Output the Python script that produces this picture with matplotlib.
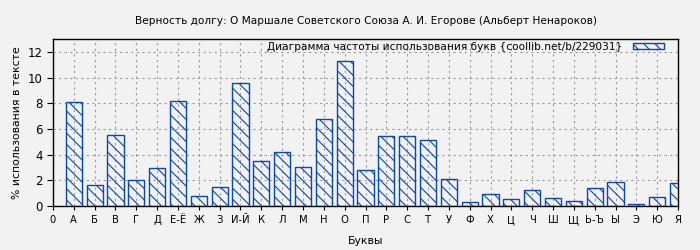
import matplotlib.pyplot as plt

plt.rcParams["font.family"] = ["DejaVu Sans"]
plt.rcParams["hatch.linewidth"] = 0.8

title = "Верность долгу: О Маршале Советского Союза А. И. Егорове (Альберт Ненароков)"
legend_label = "Диаграмма частоты использования букв {coollib.net/b/229031}"

tick_labels = ["0", "А", "Б", "В", "Г", "Д", "Е-Ё", "Ж", "З", "И-Й", "К", "Л", "М",
               "Н", "О", "П", "Р", "С", "Т", "У", "Ф", "Х", "Ц", "Ч", "Ш", "Щ",
               "Ь-Ъ", "Ы", "Э", "Ю", "Я"]
letters = tick_labels[1:]
percent = [8.1, 1.6, 5.5, 2.0, 2.95, 8.18, 0.76, 1.46, 9.59, 3.49, 4.2, 3.02,
           6.77, 11.3, 2.79, 5.45, 5.45, 5.13, 2.09, 0.29, 0.91, 0.52, 1.23,
           0.6, 0.37, 1.38, 1.85, 0.13, 0.68, 1.77]

bg = "#f2f2f2"
blue = "#0b47b0"

fig = plt.figure(figsize=(7, 2.5), dpi=100, facecolor=bg)
ax = fig.add_axes([0.0757, 0.176, 0.8929, 0.668])
ax.set_facecolor(bg)

pos = list(range(1, len(letters) + 1))
ax.bar(pos, percent, width=0.77, facecolor="none", edgecolor=blue,
       linewidth=1.0, hatch="\\\\\\", label=legend_label, zorder=3)

ax.set_xlim(0, 30)
ax.set_ylim(0, 13)
ax.set_xticks(range(len(tick_labels)))
ax.set_xticklabels(tick_labels, fontsize=8, fontstretch="condensed")
ax.set_yticks(range(0, 13, 2))
ax.tick_params(axis="y", labelsize=8.5, length=4)
ax.tick_params(axis="x", length=3)
ax.grid(True, color="#999999", linestyle=(0, (2, 3)), linewidth=0.8, zorder=0)

for s in ax.spines.values():
    s.set_linewidth(1.0)

ax.set_title(title, fontsize=7.6, pad=11)
ax.set_xlabel("Буквы", fontsize=7.8, labelpad=8)
ax.set_ylabel("% использования в тексте", fontsize=7.8)

ax.legend(loc="upper right", bbox_to_anchor=(0.981, 1.0), frameon=False,
          fontsize=7.6, markerfirst=False, handlelength=2.85, handleheight=0.58,
          handletextpad=1.05, borderaxespad=0.0, borderpad=0.25)

plt.savefig("out.png", dpi=100, facecolor=bg)
